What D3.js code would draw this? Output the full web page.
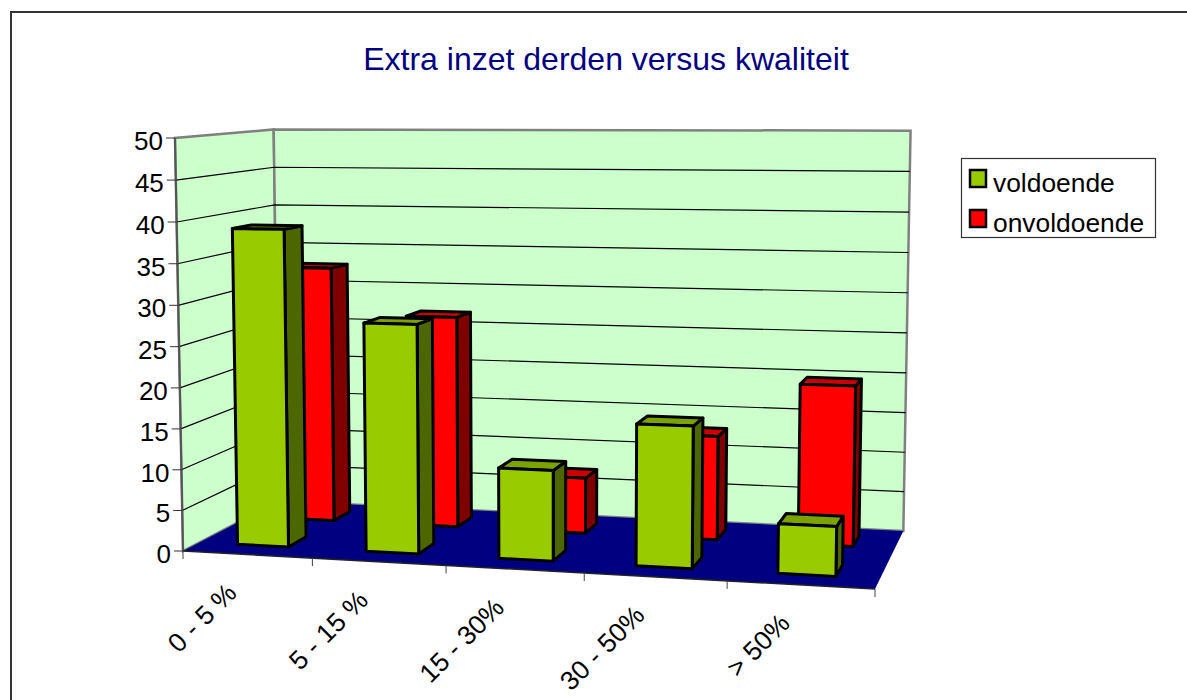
<!DOCTYPE html>
<html>
<head>
<meta charset="utf-8">
<script src="https://cdnjs.cloudflare.com/ajax/libs/d3/7.8.5/d3.min.js"></script>
<style>
body { margin: 0; background: #fff; }
text { font-family: "Liberation Sans", Arial, sans-serif; }
</style>
</head>
<body>
<script>
// data
var categories = ["0 - 5 %", "5 - 15 %", "15 - 30%", "30 - 50%", "> 50%"];
var seriesNames = ["voldoende", "onvoldoende"];
var voldoende = [38.9, 27.8, 10.9, 16.8, 5.8];
var onvoldoende = [32.7, 26.8, 7, 12.9, 19.7];
var yTicks = [0, 5, 10, 15, 20, 25, 30, 35, 40, 45, 50];

var width = 1187, height = 700;

var svg = d3.select("body").append("svg")
    .attr("width", width)
    .attr("height", height)
    .style("display", "block");

// perspective box: corners of the floor and the top of the front left edge
var A = [183, 551], B = [875, 589], D = [279, 501], T = [175, 138];
var wB = 0.92, wD = 1.112, wT = 0.979;

var uScale = d3.scaleLinear().domain([0, categories.length]).range([0, 1]);
var vScale = d3.scaleLinear().domain([0, 50]).range([0, 1]);

// u = along the categories, d = depth 0..1, v = value
function project(u, d, v) {
    var a = uScale(u), c = vScale(v);
    var w = 1 + a * (wB - 1) + d * (wD - 1) + c * (wT - 1);
    var x = A[0] + a * (wB * B[0] - A[0]) + d * (wD * D[0] - A[0]) + c * (wT * T[0] - A[0]);
    var y = A[1] + a * (wB * B[1] - A[1]) + d * (wD * D[1] - A[1]) + c * (wT * T[1] - A[1]);
    return [x / w, y / w];
}

function poly(pts) {
    return "M" + pts.map(function (p) { return p[0] + "," + p[1]; }).join("L") + "Z";
}

var n = categories.length;

// outer border, only top and left are in the picture
svg.append("path")
    .attr("d", "M11,700V12H1187")
    .attr("fill", "none").attr("stroke", "#333").attr("stroke-width", 2);

// title
svg.append("text")
    .attr("x", 606).attr("y", 70)
    .attr("text-anchor", "middle")
    .attr("font-size", 32)
    .attr("fill", "#000080")
    .text("Extra inzet derden versus kwaliteit");

// walls and floor
svg.append("path")
    .attr("d", poly([project(0, 0, 0), project(0, 1, 0), project(0, 1, 50), project(0, 0, 50)]))
    .attr("fill", "#ccffcc").attr("stroke", "#808080").attr("stroke-width", 2.5);
svg.append("path")
    .attr("d", poly([project(0, 1, 0), project(n, 1, 0), project(n, 1, 50), project(0, 1, 50)]))
    .attr("fill", "#ccffcc").attr("stroke", "#808080").attr("stroke-width", 2.5);
svg.append("path")
    .attr("d", poly([project(0, 0, 0), project(n, 0, 0), project(n, 1, 0), project(0, 1, 0)]))
    .attr("fill", "#000080");

// gridlines
var gridTicks = yTicks.filter(function (t) { return t > 0 && t < 50; });
var line = d3.line();
svg.selectAll("path.grid")
    .data(gridTicks)
    .enter()
    .append("path")
    .attr("class", "grid")
    .attr("d", function (t) {
        return line([project(0, 0, t), project(0, 1, t), project(n, 1, t)]);
    })
    .attr("fill", "none")
    .attr("stroke", "#000")
    .attr("stroke-width", 1.2);

// axes: front edges
svg.append("path")
    .attr("d", line([project(0, 0, 50), project(0, 0, 0)]))
    .attr("stroke", "#555").attr("stroke-width", 2).attr("fill", "none");
svg.append("path")
    .attr("d", line([project(0, 0, 0), project(n, 0, 0)]))
    .attr("stroke", "#222").attr("stroke-width", 1.5).attr("fill", "none");

// y ticks
svg.selectAll("line.ytick")
    .data(yTicks)
    .enter()
    .append("line")
    .attr("class", "ytick")
    .attr("x1", function (t) { return project(0, 0, t)[0] - 9; })
    .attr("x2", function (t) { return project(0, 0, t)[0]; })
    .attr("y1", function (t) { return project(0, 0, t)[1]; })
    .attr("y2", function (t) { return project(0, 0, t)[1]; })
    .attr("stroke", "#333");

svg.selectAll("text.ylabel")
    .data(yTicks)
    .enter()
    .append("text")
    .attr("class", "ylabel")
    .attr("x", function (t) { return project(0, 0, t)[0] - 12; })
    .attr("y", function (t) { return project(0, 0, t)[1] + 12; })
    .attr("text-anchor", "end")
    .attr("font-size", 26)
    .attr("fill", "#000")
    .text(function (t) { return t; });

// x ticks
svg.selectAll("line.xtick")
    .data(d3.range(n + 1))
    .enter()
    .append("line")
    .attr("class", "xtick")
    .attr("x1", function (i) { return project(i, 0, 0)[0]; })
    .attr("x2", function (i) { return project(i, 0, 0)[0]; })
    .attr("y1", function (i) { return project(i, 0, 0)[1]; })
    .attr("y2", function (i) { return project(i, 0, 0)[1] + 8; })
    .attr("stroke", "#444");

// category labels
svg.selectAll("text.xlabel")
    .data(categories)
    .enter()
    .append("text")
    .attr("class", "xlabel")
    .attr("text-anchor", "end")
    .attr("font-size", 26.5)
    .attr("fill", "#000")
    .attr("transform", function (c, i) {
        var p = project(i + 0.5, 0, 0);
        return "translate(" + (p[0] - 9) + "," + (p[1] + 40) + ") rotate(-45)";
    })
    .text(function (c) { return c; });

// bars, back row first
var barU = [0.3, 0.7];
var rows = [
    { values: onvoldoende, depth: [0.67, 0.86], front: "#ff0000", side: "#800000", top: "#cc0000" },
    { values: voldoende, depth: [0.16, 0.35], front: "#99cc00", side: "#4c6600", top: "#7aa300" }
];

rows.forEach(function (row) {
    var g = svg.append("g")
        .attr("stroke", "#000")
        .attr("stroke-width", 3)
        .attr("stroke-linejoin", "round");
    var d0 = row.depth[0], d1 = row.depth[1];
    row.values.forEach(function (v, i) {
        var u0 = i + barU[0], u1 = i + barU[1];
        g.append("path")
            .attr("fill", row.side)
            .attr("d", poly([project(u1, d0, 0), project(u1, d1, 0), project(u1, d1, v), project(u1, d0, v)]));
        g.append("path")
            .attr("fill", row.top)
            .attr("d", poly([project(u0, d0, v), project(u1, d0, v), project(u1, d1, v), project(u0, d1, v)]));
        g.append("path")
            .attr("fill", row.front)
            .attr("d", poly([project(u0, d0, 0), project(u1, d0, 0), project(u1, d0, v), project(u0, d0, v)]));
    });
});

// legend
var legend = svg.append("g");
legend.append("rect")
    .attr("x", 961.5).attr("y", 158.5)
    .attr("width", 194).attr("height", 79)
    .attr("fill", "#fff").attr("stroke", "#333").attr("stroke-width", 1.2);
var legendColors = ["#99cc00", "#ff0000"];
seriesNames.forEach(function (name, i) {
    legend.append("rect")
        .attr("x", 970).attr("y", 170 + i * 40)
        .attr("width", 16).attr("height", 17)
        .attr("fill", legendColors[i])
        .attr("stroke", "#000").attr("stroke-width", 2.5);
    legend.append("text")
        .attr("x", 993).attr("y", 192 + i * 40)
        .attr("font-size", 26.4)
        .attr("fill", "#000")
        .text(name);
});
</script>
</body>
</html>
